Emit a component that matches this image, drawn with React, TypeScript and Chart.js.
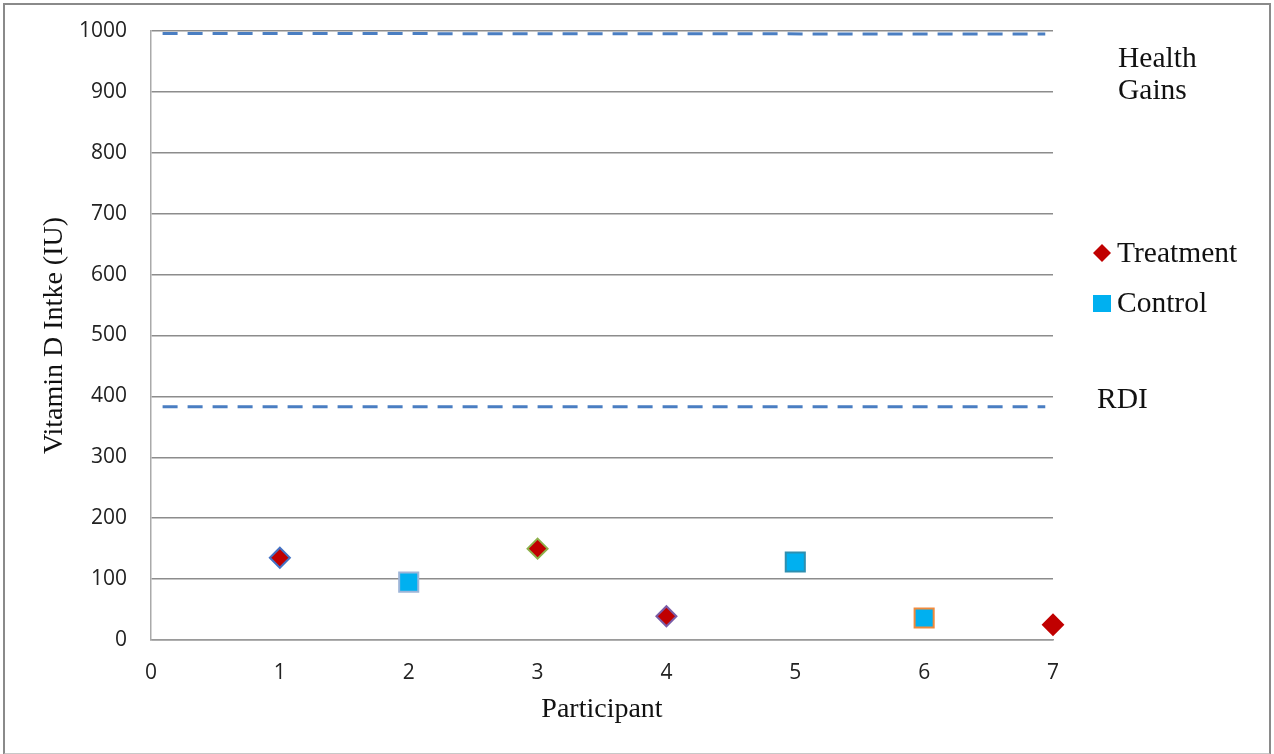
import React, { useEffect, useRef } from "react";
import { Chart, registerables } from "chart.js";

Chart.register(...registerables);

const treatmentX = [1, 3, 4, 7];
const treatmentY = [135, 150, 39, 25];
const treatmentBorders = ["#4472C4", "#8DB04A", "#7A5CA6", "#C00000"];

const controlX = [2, 5, 6];
const controlY = [95, 128, 36];
const controlBorders = ["#9DB5D8", "#2E8FB0", "#F08A3C"];

const rdiLineX = [0.09, 6.94];
const rdiLineY = [383, 383];
const healthLineX = [0.09, 6.94];
const healthLineY = [996, 995];

const yTicks = [0, 100, 200, 300, 400, 500, 600, 700, 800, 900, 1000];
const xTicks = [0, 1, 2, 3, 4, 5, 6, 7];

const seriesNames = ["Treatment", "Control"];
const annotationHealth = ["Health", "Gains"];
const annotationRdi = "RDI";

const SERIF = "'Liberation Serif', 'Times New Roman', serif";
const SANS = "'Open Sans', 'Noto Sans', sans-serif";

const overlayPlugin = {
  id: "overlay",
  afterDraw(chart: any) {
    const ctx = chart.ctx;
    ctx.save();
    ctx.fillStyle = "#111";
    ctx.font = `29.5px ${SERIF}`;
    ctx.textBaseline = "alphabetic";
    ctx.textAlign = "left";
    ctx.fillText(annotationHealth[0], 1118, 67);
    ctx.fillText(annotationHealth[1], 1118, 99);
    ctx.fillText(annotationRdi, 1097, 408);
    // legend
    ctx.fillText(seriesNames[0], 1117, 262);
    ctx.fillText(seriesNames[1], 1117, 312);
    // legend markers
    ctx.fillStyle = "#C00000";
    ctx.beginPath();
    ctx.moveTo(1102, 244);
    ctx.lineTo(1111, 253);
    ctx.lineTo(1102, 262);
    ctx.lineTo(1093, 253);
    ctx.closePath();
    ctx.fill();
    ctx.fillStyle = "#00B0F0";
    ctx.fillRect(1093, 295, 18, 17);
    ctx.restore();
  },
};

export default function App() {
  const ref = useRef<HTMLCanvasElement>(null);
  useEffect(() => {
    if (!ref.current) return;
    const chart = new Chart(ref.current, {
      type: "scatter",
      data: {
        datasets: [
          {
            label: "Health Gains",
            type: "line",
            data: healthLineX.map((x, i) => ({ x, y: healthLineY[i] })),
            borderColor: "#4A7EC2",
            borderWidth: 3,
            borderDash: [15, 10],
            pointRadius: 0,
            fill: false,
          } as any,
          {
            label: "RDI",
            type: "line",
            data: rdiLineX.map((x, i) => ({ x, y: rdiLineY[i] })),
            borderColor: "#4A7EC2",
            borderWidth: 3,
            borderDash: [15, 10],
            pointRadius: 0,
            fill: false,
          } as any,
          {
            label: seriesNames[0],
            data: treatmentX.map((x, i) => ({ x, y: treatmentY[i] })),
            pointStyle: "rectRot",
            pointRadius: 10,
            backgroundColor: "#C00000",
            borderColor: treatmentBorders,
            borderWidth: 2,
            clip: false,
          } as any,
          {
            label: seriesNames[1],
            data: controlX.map((x, i) => ({ x, y: controlY[i] })),
            pointStyle: "rect",
            pointRadius: 13.5,
            backgroundColor: "#00B0F0",
            borderColor: controlBorders,
            borderWidth: 2,
            clip: false,
          } as any,
        ],
      },
      options: {
        animation: false,
        responsive: false,
        layout: { padding: { left: 0, top: 31, right: 221, bottom: 0 } },
        plugins: {
          legend: { display: false },
          tooltip: { enabled: false },
        },
        scales: {
          x: {
            type: "linear",
            min: 0,
            max: 7,
            afterBuildTicks: (s: any) => {
              s.ticks = xTicks.map((v) => ({ value: v }));
            },
            afterFit: (s: any) => {
              s.height = 114;
              s.paddingLeft = 0;
              s.paddingRight = 0;
            },
            ticks: {
              font: { family: SANS, size: 21 },
              color: "#222",
              padding: 20,
              callback: (v: any) => String(v),
            },
            grid: { display: false, drawTicks: false },
            border: { display: true, color: "#9a9a9a", width: 1.5 },
            title: {
              display: true,
              text: "Participant",
              font: { family: SERIF, size: 28 },
              color: "#111",
              padding: { top: 0, bottom: 28 },
            },
          },
          y: {
            type: "linear",
            min: 0,
            max: 1000,
            afterBuildTicks: (s: any) => {
              s.ticks = yTicks.map((v) => ({ value: v }));
            },
            afterFit: (s: any) => {
              s.width = 151;
              s.paddingTop = 0;
              s.paddingBottom = 0;
            },
            ticks: {
              font: { family: SANS, size: 21 },
              color: "#222",
              padding: 24,
              callback: (v: any) => String(v),
            },
            grid: { color: "#8c8c8c", lineWidth: 1.5, drawTicks: false },
            border: { display: true, color: "#aaaaaa", width: 1.5 },
            title: {
              display: true,
              text: "Vitamin D Intke (IU)",
              font: { family: SERIF, size: 28 },
              color: "#111",
              padding: { top: 38, bottom: 0 },
            },
          },
        },
      },
      plugins: [overlayPlugin],
    });
    return () => chart.destroy();
  }, []);

  return (
    <div
      style={{
        position: "fixed",
        left: 0,
        top: 0,
        width: 1274,
        height: 754,
        background: "#fff",
      }}
    >
      <canvas
        ref={ref}
        width={1274}
        height={754}
        style={{ position: "absolute", left: 0, top: 0, width: 1274, height: 754 }}
      />
      <div
        style={{
          position: "absolute",
          left: 3,
          top: 3,
          width: 1264,
          height: 748,
          border: "2px solid #8a8a8a",
          borderBottomColor: "#c8c8c8",
          pointerEvents: "none",
        }}
      />
    </div>
  );
}
